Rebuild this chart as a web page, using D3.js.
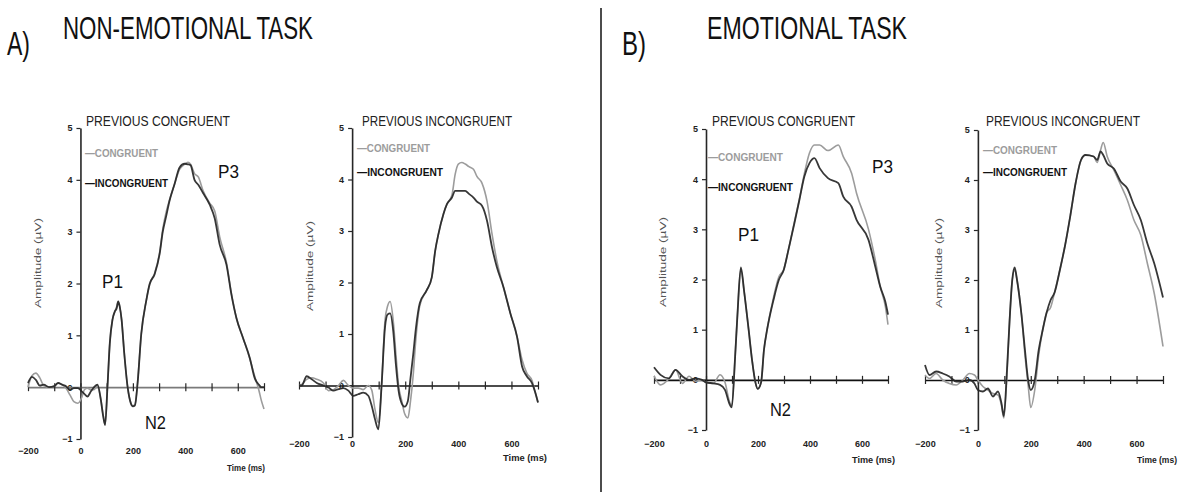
<!DOCTYPE html>
<html>
<head>
<meta charset="utf-8">
<script src="https://cdn.jsdelivr.net/npm/d3@7"></script>
<style>
  body { margin: 0; background: #fff; }
  svg { display: block; }
</style>
</head>
<body>
<svg id="chart" width="1179" height="495"></svg>
<script>
// ---------------- ERP waveforms (time in ms, amplitude in µV) ----------------

// A) Non-emotional task, previous congruent
const a1Time = [-200,-185,-170,-155,-140,-120,-100,-85,-70,-55,-40,-25,-10,5,15,27,40,52,65,78,87,94,103,112,122,131,138,144,150,157,167,180,192,200,208,218,232,251,264,283,302,314,327,340,359,378,397,410,420,435,450,467,493,512,531,557,576,595,620,646,665,680,690,700];
const a1Incongruent = [0.08,0.2,0.14,0.03,0.05,0.0,0.02,0.08,0.05,0.02,-0.05,-0.02,-0.02,-0.08,-0.13,-0.18,-0.08,0.0,0.05,-0.25,-0.57,-0.73,0.0,0.85,1.3,1.46,1.52,1.65,1.55,1.3,0.66,0.0,-0.31,-0.37,-0.35,0.08,1.03,1.67,1.99,2.18,2.57,3.0,3.3,3.6,3.92,4.24,4.31,4.3,4.28,4.0,3.9,3.75,3.52,3.26,2.75,2.36,1.78,1.33,0.95,0.56,0.17,0.05,0.0,0.0];
const a1Congruent = [0.0,0.22,0.27,0.18,0.03,0.0,0.02,0.08,0.05,-0.02,-0.15,-0.28,-0.31,-0.2,-0.05,-0.02,-0.05,-0.05,0.03,-0.25,-0.55,-0.72,0.0,0.85,1.3,1.45,1.55,1.66,1.55,1.3,0.66,0.0,-0.3,-0.36,-0.33,0.1,1.03,1.67,1.99,2.2,2.6,3.05,3.38,3.62,3.92,4.2,4.3,4.34,4.3,4.12,4.05,3.8,3.55,3.4,2.9,2.4,1.8,1.33,0.95,0.55,0.2,-0.05,-0.26,-0.42];

// A) Non-emotional task, previous incongruent
const a2Time = [-200,-190,-171,-152,-133,-108,-89,-70,-51,-33,-14,4,23,42,61,74,86,99,111,124,134,143,155,165,175,187,198,210,220,230,240,255,281,300,313,325,344,357,376,388,400,413,426,440,457,470,489,508,527,545,570,596,621,640,658,677,690,700];
const a2Incongruent = [0.0,0.0,0.18,0.12,0.05,0.0,-0.04,-0.1,-0.07,-0.05,-0.1,-0.2,-0.17,-0.14,-0.2,-0.4,-0.65,-0.85,0.0,1.14,1.38,1.4,1.05,0.4,-0.1,-0.35,-0.41,-0.3,0.15,0.6,1.1,1.6,1.85,2.1,2.62,2.94,3.33,3.52,3.65,3.78,3.78,3.78,3.78,3.72,3.65,3.57,3.49,3.2,2.68,2.3,1.91,1.4,0.95,0.37,0.18,0.05,-0.14,-0.33];
const a2Congruent = [0.0,0.02,0.12,0.15,0.12,0.05,-0.1,-0.08,0.0,0.1,0.0,-0.05,-0.05,-0.08,0.0,-0.09,-0.46,-0.72,0.0,1.27,1.55,1.63,1.25,0.6,0.0,-0.3,-0.55,-0.63,-0.3,0.2,0.9,1.55,1.85,2.1,2.62,2.94,3.33,3.52,3.7,4.1,4.3,4.33,4.3,4.25,4.2,4.06,3.93,3.58,2.94,2.42,1.91,1.4,0.95,0.5,0.24,0.1,-0.14,-0.33];

// B) Emotional task, previous congruent
const b1Time = [-200,-175,-143,-117,-91,-65,-40,-15,0,28,54,73,92,99,112,121,134,147,164,177,190,199,212,223,235,260,280,299,317,340,359,378,398,417,437,469,509,528,560,579,625,651,670,690,700];
const b1Incongruent = [0.25,0.1,0.03,0.2,0.07,0.0,0.03,0.0,-0.05,-0.07,-0.1,-0.2,-0.5,-0.55,0.46,1.3,2.24,1.75,1.0,0.4,-0.05,-0.18,-0.05,0.6,1.0,1.6,1.99,2.19,2.59,3.12,3.58,4.05,4.32,4.42,4.22,4.02,3.92,3.65,3.45,3.19,2.79,2.26,1.86,1.55,1.3];
const b1Congruent = [0.08,-0.1,0.02,0.2,-0.07,0.07,-0.03,0.0,-0.05,-0.07,0.1,-0.05,-0.46,-0.5,0.46,1.3,2.2,1.75,1.0,0.4,-0.05,-0.18,-0.05,0.6,1.0,1.65,2.05,2.2,2.59,3.15,3.6,4.1,4.52,4.68,4.68,4.57,4.68,4.45,4.12,3.72,3.0,2.39,1.86,1.46,1.1];

// B) Emotional task, previous incongruent
const b2Time = [-200,-183,-158,-133,-108,-82,-57,-32,-13,0,19,38,57,76,89,98,110,120,130,139,148,165,178,190,200,215,230,245,260,275,290,310,330,350,370,390,407,438,451,464,474,489,514,540,565,590,616,641,667,700];
const b2Incongruent = [0.3,0.1,0.17,0.13,0.07,-0.03,-0.03,0.0,-0.07,-0.2,-0.23,-0.17,-0.33,-0.23,-0.46,-0.72,0.2,1.2,2.0,2.25,2.0,1.3,0.6,0.0,-0.2,0.0,0.6,1.0,1.35,1.6,1.75,2.2,2.7,3.3,3.95,4.4,4.5,4.47,4.4,4.57,4.5,4.33,4.23,3.97,3.83,3.5,3.2,2.73,2.33,1.65];
const b2Congruent = [0.1,0.03,0.13,0.0,-0.07,-0.1,0.0,0.13,0.1,0.0,-0.13,-0.2,-0.27,-0.3,-0.5,-0.76,0.1,1.2,2.0,2.2,2.0,1.3,0.5,-0.1,-0.55,-0.2,0.5,1.0,1.35,1.45,1.75,2.2,2.7,3.3,3.95,4.4,4.5,4.47,4.35,4.6,4.75,4.47,4.2,3.9,3.6,3.2,2.9,2.33,1.73,0.67];

// Axis ticks and labels
const timeDomain = [-200, 700];
const ampDomain = [-1, 5];
const ampTicks = [-1, 0, 1, 2, 3, 4, 5];
const timeTickMarks = [-200, -100, 0, 100, 200, 300, 400, 500, 600, 700];
const timeTickLabels = [-200, 0, 200, 400, 600];
const conditionTitles = ["PREVIOUS CONGRUENT", "PREVIOUS INCONGRUENT"];
const legendLabels = ["\u2014CONGRUENT", "\u2014INCONGRUENT"];
const taskTitles = ["NON-EMOTIONAL TASK", "EMOTIONAL TASK"];
const taskLetters = ["A)", "B)"];

// ---------------- drawing ----------------
const NARROW = "'Liberation Sans Narrow','Arial Narrow','Liberation Sans',Arial,sans-serif";
const SANS = "'Liberation Sans',Arial,Helvetica,sans-serif";
const GRAY = "#9c9c9c";
const DARK = "#262626";

const svg = d3.select("#chart");

// Panel layout (pixel boxes and label placement)
const panels = [
  { time: a1Time, cong: a1Congruent, incong: a1Incongruent, title: conditionTitles[0],
    xr: [28, 264], yr: [439, 128], titleX: 86, titleW: 144,
    legX: 85, legY: [157, 187], legW: [73, 83], tickLabelY: 454,
    timeLab: [227, 471, 38], yTitle: [41, 263], xAxisColor: "#7a7a7a",
    peaks: [["P1", 102, 288], ["N2", 145, 429], ["P3", 218, 178]] },
  { time: a2Time, cong: a2Congruent, incong: a2Incongruent, title: conditionTitles[1],
    xr: [299, 538], yr: [437, 128], titleX: 362, titleW: 150,
    legX: 357, legY: [152, 176], legW: [73, 86], tickLabelY: 447,
    timeLab: [503, 461, 44], yTitle: [313, 266], xAxisColor: "#111",
    peaks: [] },
  { time: b1Time, cong: b1Congruent, incong: b1Incongruent, title: conditionTitles[0],
    xr: [654, 888], yr: [430, 129], titleX: 712, titleW: 143,
    legX: 708, legY: [161, 191], legW: [75, 85], tickLabelY: 447,
    timeLab: [852, 463, 43], yTitle: [666, 262], xAxisColor: "#111",
    peaks: [["P1", 738, 241], ["N2", 770, 416], ["P3", 872, 173]] },
  { time: b2Time, cong: b2Congruent, incong: b2Incongruent, title: conditionTitles[1],
    xr: [925, 1163], yr: [430, 130], titleX: 986, titleW: 154,
    legX: 983, legY: [154, 176], legW: [74, 84], tickLabelY: 447,
    timeLab: [1137, 463, 40], yTitle: [942, 263], xAxisColor: "#111",
    peaks: [] }
];

function drawPanel(p) {
  const g = svg.append("g");
  const x = d3.scaleLinear().domain(timeDomain).range(p.xr);
  const y = d3.scaleLinear().domain(ampDomain).range(p.yr);

  // amplitude axis, crossing at time 0
  const yAxis = g.append("g")
    .attr("transform", `translate(${x(0)},0)`)
    .call(d3.axisLeft(y).tickValues(ampTicks).tickSizeInner(4).tickSizeOuter(0).tickPadding(4).tickFormat(d3.format("d")));
  yAxis.select(".domain").attr("stroke", DARK).attr("stroke-width", 1.6);
  yAxis.selectAll(".tick line").attr("stroke", DARK).attr("stroke-width", 1.2);
  yAxis.selectAll(".tick text")
    .attr("font-family", NARROW).attr("font-size", 9).attr("font-weight", "bold")
    .attr("fill", "#222");

  // time tick labels along the bottom
  const xLabels = g.append("g")
    .attr("transform", `translate(0,${p.tickLabelY})`)
    .call(d3.axisBottom(x).tickValues(timeTickLabels).tickSize(0).tickPadding(0).tickFormat(d3.format("d")));
  xLabels.select(".domain").remove();
  xLabels.selectAll(".tick text")
    .attr("dy", 0)
    .attr("font-family", NARROW).attr("font-size", 9).attr("font-weight", "bold")
    .attr("fill", "#222");

  // time axis at zero amplitude with crossing tick marks
  const xAxis = g.append("g")
    .attr("transform", `translate(0,${y(0)})`)
    .call(d3.axisBottom(x).tickValues(timeTickMarks).tickSizeInner(4).tickSizeOuter(0).tickFormat(""));
  xAxis.select(".domain").attr("stroke", p.xAxisColor).attr("stroke-width", 1.6);
  xAxis.selectAll(".tick line").attr("y1", -4).attr("stroke", DARK).attr("stroke-width", 1.2);

  // axis titles
  g.append("text")
    .attr("transform", `translate(${p.yTitle[0]},${p.yTitle[1]}) rotate(-90)`)
    .attr("text-anchor", "middle")
    .attr("font-family", NARROW).attr("font-size", 9).attr("fill", "#555")
    .attr("textLength", 90).attr("lengthAdjust", "spacingAndGlyphs")
    .text("Amplitude (\u00b5V)");
  g.append("text")
    .attr("x", p.timeLab[0]).attr("y", p.timeLab[1])
    .attr("font-family", NARROW).attr("font-size", 9).attr("font-weight", "bold").attr("fill", "#222")
    .attr("textLength", p.timeLab[2]).attr("lengthAdjust", "spacingAndGlyphs")
    .text("Time (ms)");

  // waveforms
  const line = d3.line()
    .x((d, i) => x(p.time[i]))
    .y(d => y(d))
    .curve(d3.curveMonotoneX);
  g.append("path").datum(p.cong)
    .attr("d", line).attr("fill", "none")
    .attr("stroke", GRAY).attr("stroke-width", 1.6);
  g.append("path").datum(p.incong)
    .attr("d", line).attr("fill", "none")
    .attr("stroke", DARK).attr("stroke-width", 1.8).attr("stroke-opacity", 0.92);

  // condition title
  g.append("text")
    .attr("x", p.titleX).attr("y", 126)
    .attr("font-family", NARROW).attr("font-size", 14).attr("fill", "#222")
    .attr("textLength", p.titleW).attr("lengthAdjust", "spacingAndGlyphs")
    .text(p.title);

  // legend
  [0, 1].forEach(k => {
    g.append("text")
      .attr("x", p.legX).attr("y", p.legY[k])
      .attr("font-family", NARROW).attr("font-size", 11).attr("font-weight", "bold")
      .attr("fill", k === 0 ? GRAY : "#111")
      .attr("textLength", p.legW[k]).attr("lengthAdjust", "spacingAndGlyphs")
      .text(legendLabels[k]);
  });

  // component labels
  p.peaks.forEach(([t, px, py]) => {
    g.append("text")
      .attr("x", px).attr("y", py)
      .attr("font-family", SANS).attr("font-size", 18).attr("fill", "#111")
      .attr("textLength", 21).attr("lengthAdjust", "spacingAndGlyphs")
      .text(t);
  });
}

panels.forEach(drawPanel);

// task headings
const headings = [
  { letter: taskLetters[0], lx: 7, lw: 23, title: taskTitles[0], tx: 63, tw: 250 },
  { letter: taskLetters[1], lx: 622, lw: 24, title: taskTitles[1], tx: 707, tw: 200 }
];
headings.forEach(h => {
  svg.append("text")
    .attr("x", h.lx).attr("y", 55)
    .attr("font-family", SANS).attr("font-size", 34).attr("fill", "#111")
    .attr("textLength", h.lw).attr("lengthAdjust", "spacingAndGlyphs")
    .text(h.letter);
  svg.append("text")
    .attr("x", h.tx).attr("y", 39)
    .attr("font-family", SANS).attr("font-size", 31).attr("fill", "#111")
    .attr("textLength", h.tw).attr("lengthAdjust", "spacingAndGlyphs")
    .text(h.title);
});

// divider between the two tasks
svg.append("line")
  .attr("x1", 601).attr("x2", 601).attr("y1", 8).attr("y2", 492)
  .attr("stroke", "#111").attr("stroke-width", 1.5);
</script>
</body>
</html>
